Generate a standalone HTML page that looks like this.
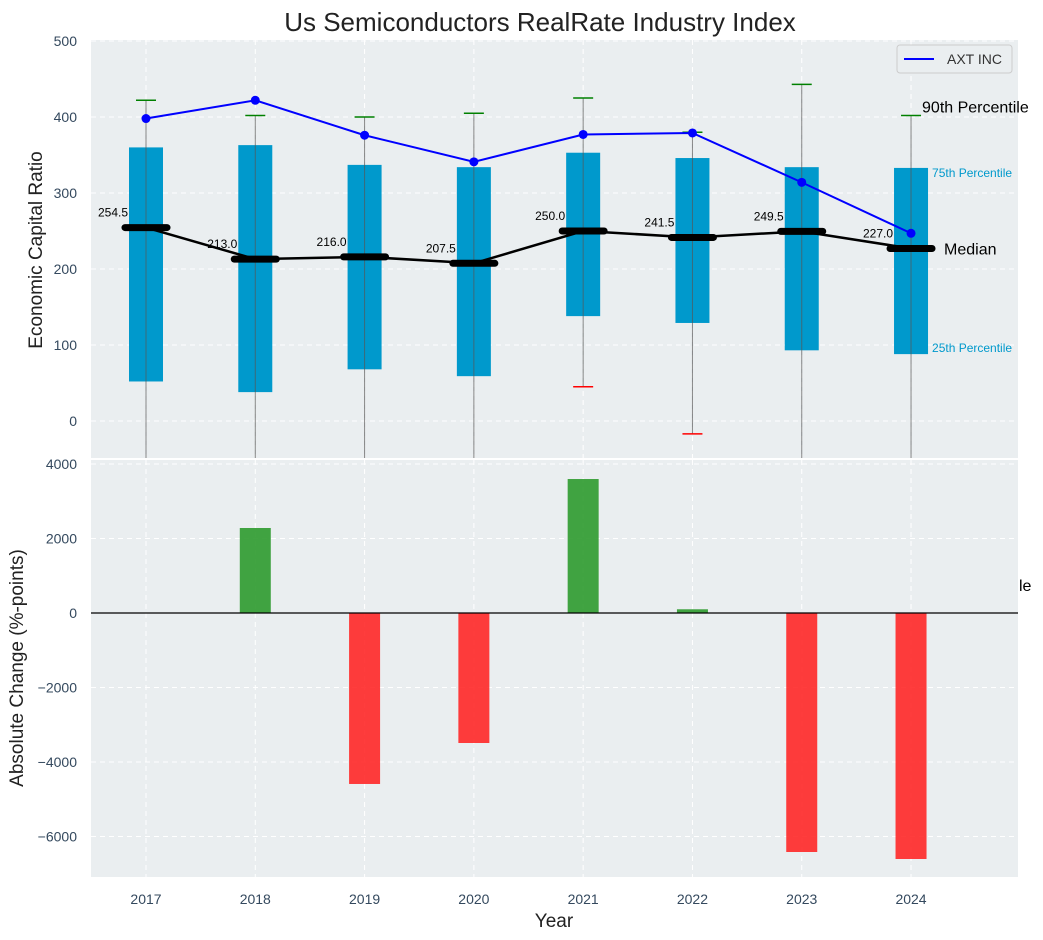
<!DOCTYPE html>
<html><head><meta charset="utf-8">
<style>
body{margin:0;background:#fff;}
svg{display:block;font-family:"Liberation Sans",Arial,sans-serif;}
</style></head>
<body>
<svg id="chart" width="1043" height="940" viewBox="0 0 1043 940" xmlns="http://www.w3.org/2000/svg"></svg>
<script>
const years=[2017,2018,2019,2020,2021,2022,2023,2024];
const q25=[52,38,68,59,138,129,93,88];
const q75=[360,363,337,334,353,346,334,333];
const medians=[254.5,213.0,216.0,207.5,250.0,241.5,249.5,227.0];
const p90=[422,402,400,405,425,380,443,402];
const p10=[-100,-100,-100,-100,45,-17,-100,-100];
const p10Visible=[false,false,false,false,true,true,false,false];
const axt=[398,422,376,341,377,379,314,247];
const changes=[0,2282,-4590,-3490,3597,100,-6416,-6604];
const topTicks=[0,100,200,300,400,500];
const botTicks=[-6000,-4000,-2000,0,2000,4000];

const NS="http://www.w3.org/2000/svg";
const svg=document.getElementById('chart');
function mk(tag,attrs,parent){const e=document.createElementNS(NS,tag);for(const k in attrs)e.setAttribute(k,attrs[k]);(parent||svg).appendChild(e);return e;}
const fmt=v=>(v<0?'\u2212':'')+Math.abs(v);
const L=91,R=1018;
const T1=40,B1=458,T2=460,B2=877;
const x=i=>146+i*109.29;
const y1=v=>421-v*0.76;
const y2=v=>613-v*0.03725;
const TICK='#34495e';

let t=mk('text',{x:540,y:31,'text-anchor':'middle','font-size':26,fill:'#222'});


t.textContent='Us Semiconductors RealRate Industry Index';

const defs=mk('defs',{});
const c1=mk('clipPath',{id:'c1'},defs);mk('rect',{x:L,y:T1,width:R-L,height:B1-T1},c1);
const c2=mk('clipPath',{id:'c2'},defs);mk('rect',{x:L,y:T2,width:R-L,height:B2-T2},c2);
let p1=mk('rect',{x:L,y:T1,width:R-L,height:B1-T1,fill:'#eaeef0'});


let p2=mk('rect',{x:L,y:T2,width:R-L,height:B2-T2,fill:'#eaeef0'});



const g1=mk('g',{'clip-path':'url(#c1)'});
const g2=mk('g',{'clip-path':'url(#c2)'});
years.forEach((yr,i)=>{
  mk('line',{x1:x(i),x2:x(i),y1:T1,y2:B1,stroke:'#fff','stroke-dasharray':'5,4','stroke-width':1},g1);
  mk('line',{x1:x(i),x2:x(i),y1:T2,y2:B2,stroke:'#fff','stroke-dasharray':'5,4','stroke-width':1},g2);
  let tl=mk('text',{x:x(i),y:904,'text-anchor':'middle','font-size':14,fill:TICK});
  
  
  tl.textContent=yr;
});
topTicks.forEach(v=>{
  mk('line',{x1:L,x2:R,y1:y1(v),y2:y1(v),stroke:'#fff','stroke-dasharray':'5,4'},g1);
  let tl=mk('text',{x:77,y:y1(v)+5,'text-anchor':'end','font-size':14,fill:TICK});
  
  
  tl.textContent=fmt(v);
});
botTicks.forEach(v=>{
  mk('line',{x1:L,x2:R,y1:y2(v),y2:y2(v),stroke:'#fff','stroke-dasharray':'5,4'},g2);
  let tl=mk('text',{x:77,y:y2(v)+5,'text-anchor':'end','font-size':14,fill:TICK});
  
  
  tl.textContent=fmt(v);
});

years.forEach((yr,i)=>{
  let ml=mk('text',{x:x(i)-18,y:y1(medians[i])-11,'text-anchor':'end','font-size':12,fill:'#000'},g1);
  
  
  ml.textContent=medians[i].toFixed(1);
});
years.forEach((yr,i)=>{
  let b=mk('rect',{x:x(i)-17,y:y1(q75[i]),width:34,height:y1(q25[i])-y1(q75[i]),fill:'#0099cc'},g1);
  
  
  let w=mk('line',{x1:x(i),x2:x(i),y1:y1(p10[i]),y2:y1(p90[i]),stroke:'#555','stroke-opacity':0.7,'stroke-width':1},g1);
  
  
  let cp=mk('line',{x1:x(i)-10,x2:x(i)+10,y1:y1(p90[i]),y2:y1(p90[i]),stroke:'green','stroke-width':1.5},g1);
  
  
  if(p10Visible[i]){
    let cl=mk('line',{x1:x(i)-10,x2:x(i)+10,y1:y1(p10[i]),y2:y1(p10[i]),stroke:'red','stroke-width':1.5},g1);
    
    
  }
});
let mp=mk('polyline',{points:years.map((yr,i)=>x(i)+','+y1(medians[i])).join(' '),fill:'none',stroke:'#000','stroke-width':2.5},g1);


years.forEach((yr,i)=>{
  let ms=mk('line',{x1:x(i)-21,x2:x(i)+21,y1:y1(medians[i]),y2:y1(medians[i]),stroke:'#000','stroke-width':7,'stroke-linecap':'round'},g1);
  
  
});
let al=mk('polyline',{points:years.map((yr,i)=>x(i)+','+y1(axt[i])).join(' '),fill:'none',stroke:'#0000ff','stroke-width':2},g1);


years.forEach((yr,i)=>{
  let d=mk('circle',{cx:x(i),cy:y1(axt[i]),r:4.5,fill:'#0000ff'},g1);
  
  
});
const last=years.length-1;
function ann(txt,xx,yy,size,col,name){let a=mk('text',{x:xx,y:yy,'font-size':size,fill:col});a.textContent=txt;}
ann('90th Percentile',x(last)+11,y1(p90[last])-3,16,'#000','p90-annotation');
ann('75th Percentile',x(last)+21,y1(q75[last])+9,12,'#0099cc','p75-annotation');
ann('Median',x(last)+33,y1(medians[last])+6,16,'#000','median-annotation');
ann('25th Percentile',x(last)+21,y1(q25[last])-2,12,'#0099cc','p25-annotation');
ann('le',1019,591,16,'#000','clipped-annotation');

let lg=mk('g',{});


mk('rect',{x:897,y:45,width:115,height:28,rx:3,fill:'#eaeef0',stroke:'#ccc'},lg);
mk('line',{x1:904,x2:934,y1:59,y2:59,stroke:'#0000ff','stroke-width':2},lg);
let lt=mk('text',{x:947,y:64,'font-size':14,fill:'#333'},lg);lt.textContent='AXT INC';

years.forEach((yr,i)=>{
  const v=changes[i];
  const yy=Math.min(y2(v),y2(0));
  let b=mk('rect',{x:x(i)-15.5,y:yy,width:31,height:Math.abs(y2(v)-y2(0)),fill:v>=0?'#2e9a2e':'#ff2020','fill-opacity':v>=0?0.9:0.87},g2);
  
  
});
mk('line',{x1:L,x2:R,y1:y2(0),y2:y2(0),stroke:'#000','stroke-width':1.2},g2);

let yt1=mk('text',{x:42,y:250,'text-anchor':'middle','font-size':19,fill:'#222',transform:'rotate(-90 42 250)'});


yt1.textContent='Economic Capital Ratio';
let yt2=mk('text',{x:23,y:668,'text-anchor':'middle','font-size':19,fill:'#222',transform:'rotate(-90 23 668)'});


yt2.textContent='Absolute Change (%-points)';
let xt=mk('text',{x:554,y:927,'text-anchor':'middle','font-size':19,fill:'#222'});


xt.textContent='Year';
</script>
</body></html>
